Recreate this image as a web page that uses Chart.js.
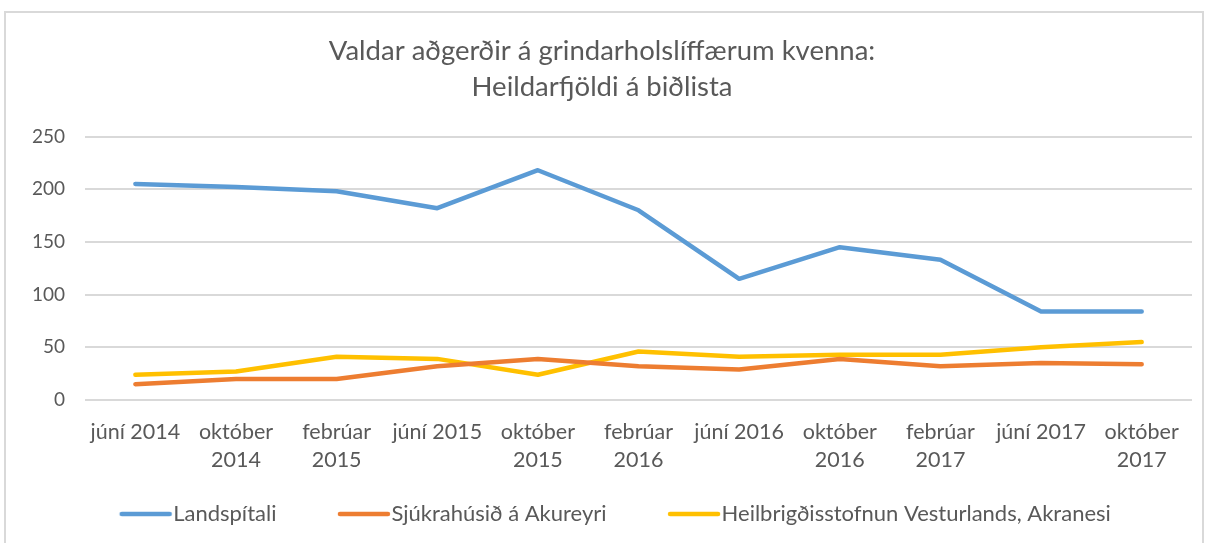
<!DOCTYPE html>
<html>
<head>
<meta charset="utf-8">
<script src="https://cdn.jsdelivr.net/npm/chart.js@4"></script>
<style>
  html, body { margin: 0; padding: 0; background: #fff; }
  .frame {
    position: absolute; left: 4px; top: 11px;
    width: 1200px; height: 540px;
    border: 2px solid #d9d9d9; box-sizing: border-box;
    background: #fff;
  }
  .frame canvas { position: absolute; left: 0; top: 0; }
</style>
</head>
<body>
<div class="frame"><canvas id="waitChart" width="1196" height="530"></canvas></div>
<script>
// Categories (x axis), wrapped like the original
const periods = [
    ['júní 2014'], ['október', '2014'], ['febrúar', '2015'], ['júní 2015'],
    ['október', '2015'], ['febrúar', '2016'], ['júní 2016'], ['október', '2016'],
    ['febrúar', '2017'], ['júní 2017'], ['október', '2017']
];

// Series values
const landspitali = [205, 202, 198, 182, 218, 180, 115, 145, 133, 84, 84];
const akureyri    = [15, 20, 20, 32, 39, 32, 29, 39, 32, 35, 34];
const akranes     = [24, 27, 41, 39, 24, 46, 41, 43, 43, 50, 55];

const seriesNames = ['Landspítali', 'Sjúkrahúsið á Akureyri', 'Heilbrigðisstofnun Vesturlands, Akranesi'];
const yTicks = [0, 50, 100, 150, 200, 250];

const textColor = '#595959';
const gridColor = '#d9d9d9';
const fontFamily = 'Lato, "Open Sans", sans-serif';
const legendPad = 35;

// legend swatch: short line at the right end of the legend box, close to the text
function swatch(color) {
    const c = document.createElement('canvas');
    c.width = 140;
    c.height = 10;
    const g = c.getContext('2d');
    g.strokeStyle = color;
    g.lineWidth = 4.5;
    g.lineCap = 'round';
    g.beginPath();
    g.moveTo(64, 5);
    g.lineTo(112, 5);
    g.stroke();
    return c;
}

const makeSet = (label, data, color) => ({
    label: label,
    data: data,
    borderColor: color,
    backgroundColor: color,
    borderWidth: 4.5,
    borderCapStyle: 'round',
    borderJoinStyle: 'round',
    pointRadius: 0,
    pointStyle: swatch(color),
    tension: 0,
    fill: false
});

new Chart(document.getElementById('waitChart').getContext('2d'), {
    type: 'line',
    data: {
        labels: periods,
        datasets: [
            makeSet(seriesNames[0], landspitali, '#5b9bd5'),
            makeSet(seriesNames[1], akureyri, '#ed7d31'),
            makeSet(seriesNames[2], akranes, '#ffc000')
        ]
    },
    options: {
        responsive: false,
        animation: false,
        layout: { padding: { left: 6, right: 10, top: 14, bottom: 8 } },
        plugins: {
            title: {
                display: true,
                text: ['Valdar aðgerðir á grindarholslíffærum kvenna:', 'Heildarfjöldi á biðlista'],
                color: textColor,
                font: { family: fontFamily, size: 27.5, weight: 'normal', lineHeight: 1.3 },
                padding: { top: 6, bottom: 32 }
            },
            legend: {
                position: 'bottom',
                labels: {
                    color: textColor,
                    font: { family: fontFamily, size: 22 },
                    usePointStyle: true,
                    boxWidth: 69,
                    pointStyleWidth: 69,
                    padding: legendPad
                }
            },
            tooltip: { enabled: false }
        },
        scales: {
            x: {
                offset: true,
                grid: { display: false, drawTicks: false },
                border: { display: false },
                // let the wrapped labels run into the legend's empty top padding
                afterFit: scale => { scale.height = 103 - legendPad; },
                ticks: {
                    color: textColor,
                    font: { family: fontFamily, size: 21.5, lineHeight: 1.3 },
                    maxRotation: 0,
                    autoSkip: false,
                    padding: 18
                }
            },
            y: {
                min: yTicks[0],
                max: yTicks[yTicks.length - 1],
                grid: { color: gridColor, lineWidth: 2, drawTicks: false },
                border: { display: false },
                afterBuildTicks: axis => { axis.ticks = yTicks.map(v => ({ value: v })); },
                ticks: {
                    color: textColor,
                    font: { family: fontFamily, size: 19 },
                    padding: 20
                }
            }
        }
    }
});
</script>
</body>
</html>
